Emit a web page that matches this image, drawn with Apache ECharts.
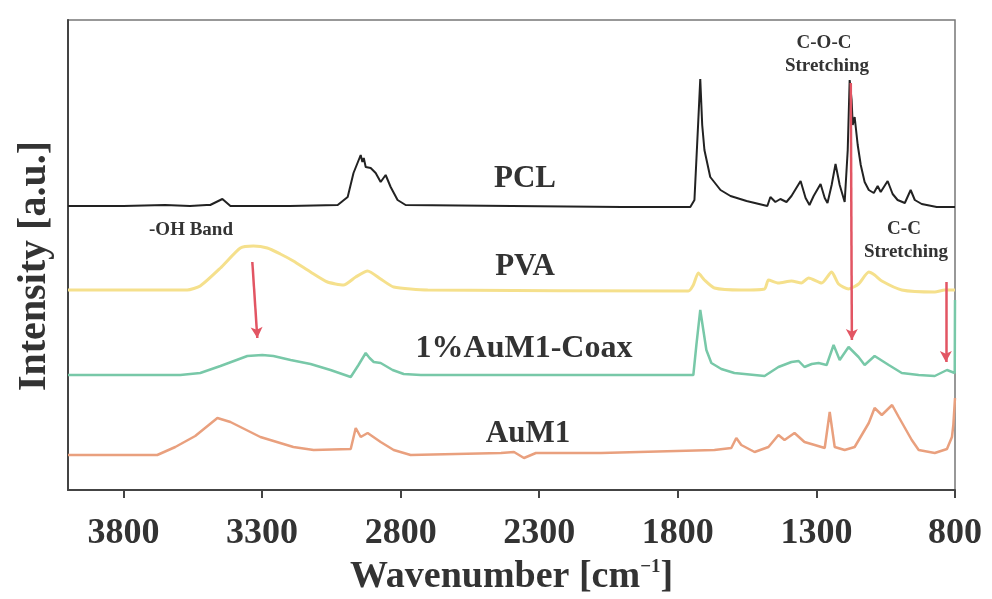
<!DOCTYPE html>
<html>
<head>
<meta charset="utf-8">
<title>FTIR spectra</title>
<script src="https://cdn.jsdelivr.net/npm/echarts@6/dist/echarts.min.js"></script>
<style>
  html, body { margin: 0; padding: 0; background: #fff; }
  #main { width: 992px; height: 599px; }
</style>
</head>
<body>
<div id="main"></div>
<script>
// x tick labels (wavenumber, cm-1), axis runs high -> low
const xTicks = [3800, 3300, 2800, 2300, 1800, 1300, 800];

// spectra: [wavenumber, stacked intensity a.u.]
const pclData = [
  [4000, 284], [3800, 284], [3650, 285], [3560, 284], [3500, 285], [3487, 285], [3443, 291], [3414, 284],
  [3200, 284], [3027, 285], [2991, 293], [2970, 317], [2944, 335], [2938, 328], [2933, 332], [2926, 323],
  [2908, 322], [2890, 317], [2872, 308], [2854, 315], [2836, 303], [2811, 290], [2782, 285], [2400, 284],
  [2000, 283], [1755, 283], [1740, 290], [1726, 370], [1719, 411], [1712, 365], [1704, 340], [1683, 313],
  [1646, 300], [1610, 294], [1552, 289], [1477, 284], [1466, 293], [1448, 288], [1430, 291], [1408, 288],
  [1390, 294], [1357, 309], [1339, 292], [1325, 285], [1310, 294], [1285, 306], [1270, 292], [1260, 287],
  [1245, 305], [1231, 326], [1216, 305], [1198, 288], [1187, 340], [1180, 410], [1173, 390], [1169, 365],
  [1162, 373], [1151, 345], [1140, 325], [1126, 308], [1111, 300], [1093, 297], [1079, 304], [1068, 298],
  [1043, 309], [1025, 296], [1007, 290], [981, 287], [960, 300], [945, 290], [920, 286], [866, 283], [800, 283]
];
const pvaData = [
  [4000, 200], [3570, 200], [3523, 204], [3450, 222], [3378, 242], [3331, 244], [3281, 242], [3234, 236],
  [3187, 229], [3125, 218], [3064, 208], [3006, 205], [2962, 213], [2919, 219], [2872, 211], [2825, 203],
  [2702, 200], [1762, 199], [1744, 205], [1726, 217], [1704, 210], [1668, 202], [1571, 200], [1487, 201],
  [1473, 210], [1437, 207], [1390, 209], [1354, 207], [1328, 212], [1281, 207], [1245, 218], [1220, 206],
  [1184, 201], [1148, 206], [1111, 218], [1090, 215], [1064, 209], [992, 200], [873, 198], [837, 200], [800, 200]
];
const coaxData = [
  [4000, 115], [3595, 115], [3523, 117], [3450, 124], [3353, 134], [3299, 135], [3259, 134], [3197, 130],
  [3125, 126], [3053, 120], [2980, 113], [2952, 125], [2926, 137], [2912, 132], [2897, 128], [2872, 127],
  [2829, 120], [2789, 116], [2727, 115], [1744, 115], [1733, 145], [1719, 180], [1708, 160], [1697, 140],
  [1679, 127], [1643, 121], [1596, 117], [1487, 114], [1437, 123], [1390, 128], [1364, 129], [1343, 123],
  [1317, 126], [1292, 127], [1263, 125], [1238, 145], [1216, 130], [1184, 143], [1148, 133], [1126, 125],
  [1090, 134], [1039, 125], [992, 117], [931, 115], [873, 114], [829, 120], [801, 117], [800, 190]
];
const aum1Data = [
  [4000, 35], [3678, 35], [3613, 43], [3541, 54], [3461, 72], [3414, 68], [3306, 53], [3187, 43],
  [3114, 40], [2980, 41], [2962, 62], [2944, 53], [2919, 57], [2872, 48], [2825, 40], [2764, 35],
  [2438, 37], [2391, 38], [2355, 32], [2312, 37], [2077, 37], [1668, 40], [1607, 42], [1589, 52],
  [1571, 45], [1523, 38], [1473, 43], [1437, 55], [1415, 50], [1379, 57], [1343, 48], [1306, 45],
  [1270, 42], [1252, 78], [1234, 43], [1198, 40], [1162, 43], [1111, 67], [1090, 82], [1064, 75],
  [1027, 85], [1003, 73], [956, 50], [931, 40], [873, 37], [829, 41], [811, 53], [806, 65], [800, 92]
];

// red arrows: [from, to] in data coords
const arrowLines = [
  [[3335, 228], [3317, 152]],
  [[1176, 407], [1172, 150]],
  [[833, 208], [833, 128]]
];

const serif = '"Liberation Serif", "Times New Roman", serif';
const chart = echarts.init(document.getElementById('main'));

const label = (text, x, y, size, rot) => ({
  type: 'text',
  x: x,
  y: y,
  rotation: rot || 0,
  style: {
    text: text,
    font: 'bold ' + size + 'px ' + serif,
    fill: '#333',
    align: 'center',
    verticalAlign: 'middle'
  }
});

const option = {
  animation: false,
  grid: {
    left: 68,
    top: 20,
    right: 37,
    bottom: 109,
    outerBoundsMode: 'none',
    show: true,
    borderColor: '#777',
    borderWidth: 1.5
  },
  xAxis: {
    type: 'value',
    min: 800,
    max: 4000,
    inverse: true,
    name: 'Wavenumber [cm{sup|−1}]',
    nameLocation: 'middle',
    nameGap: 68,
    nameTextStyle: {
      fontFamily: serif,
      fontWeight: 'bold',
      fontSize: 38,
      color: '#333',
      rich: {
        sup: { fontFamily: serif, fontWeight: 'bold', fontSize: 19, color: '#333', verticalAlign: 'top', padding: [0, 0, 14, 0] }
      }
    },
    axisLine: { show: true, onZero: false, lineStyle: { color: '#444', width: 2 } },
    axisTick: { show: true, length: 8, customValues: xTicks, lineStyle: { color: '#444', width: 2 } },
    axisLabel: {
      customValues: xTicks,
      margin: 26,
      formatter: v => String(v),
      fontFamily: serif,
      fontWeight: 'bold',
      fontSize: 36,
      color: '#333'
    },
    splitLine: { show: false }
  },
  yAxis: {
    type: 'value',
    min: 0,
    max: 470,
    axisLine: { show: true, onZero: false, lineStyle: { color: '#444', width: 2 } },
    axisTick: { show: false },
    axisLabel: { show: false },
    splitLine: { show: false }
  },
  series: [
    {
      name: 'PCL', type: 'line', data: pclData, showSymbol: false,
      lineStyle: { color: '#222', width: 2 }, z: 3
    },
    {
      name: 'PVA', type: 'line', data: pvaData, showSymbol: false, smooth: 0.2,
      lineStyle: { color: '#f5e08c', width: 3 }
    },
    {
      name: '1%AuM1-Coax', type: 'line', data: coaxData, showSymbol: false,
      lineStyle: { color: '#78c8a8', width: 2.5 }
    },
    {
      name: 'AuM1', type: 'line', data: aum1Data, showSymbol: false,
      lineStyle: { color: '#e9a07e', width: 2.5 },
      markLine: {
        silent: true,
        symbol: ['none', 'arrow'],
        symbolSize: [9, 11],
        label: { show: false },
        lineStyle: { color: '#e25563', width: 2.5, type: 'solid' },
        data: arrowLines.map(a => [{ coord: a[0] }, { coord: a[1] }])
      },
      z: 4
    }
  ],
  graphic: [
    label('Intensity [a.u.]', 35, 266, 40, Math.PI / 2),
    label('PCL', 525, 179, 31),
    label('PVA', 525, 267, 31),
    label('1%AuM1-Coax', 524, 349, 32),
    label('AuM1', 528, 434, 31),
    label('-OH Band', 191, 230, 19),
    label('C-O-C', 824, 43, 19),
    label('Stretching', 827, 66, 19),
    label('C-C', 904, 229, 19),
    label('Stretching', 906, 252, 19)
  ]
};

chart.setOption(option);
</script>
</body>
</html>
